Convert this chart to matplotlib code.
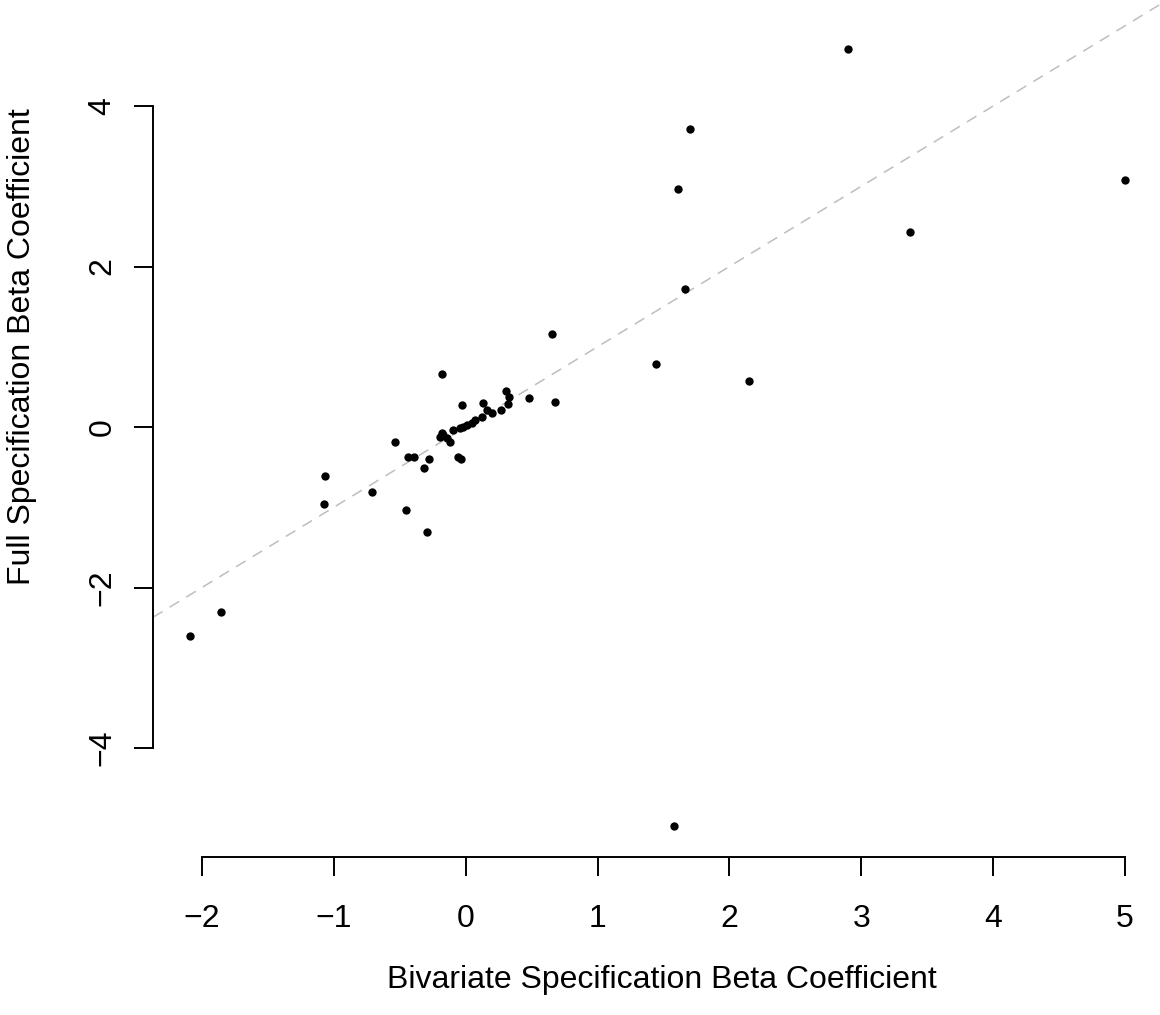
import matplotlib
matplotlib.use("Agg")
import matplotlib.pyplot as plt

plt.rcParams['font.family'] = ['Liberation Sans', 'DejaVu Sans']
plt.rcParams['lines.scale_dashes'] = False

# Bivariate (x) vs full specification (y) beta coefficients
bivariate = [2.899, 1.701, 1.610, 5.000, 3.369, 1.663, 0.654, 1.443, 2.149,
             -0.180, 0.677, 0.480, 1.580, -2.091, -1.856, -1.067, -1.075,
             -0.711, -0.453, -0.293, -0.536, -0.438, -0.392, -0.278, -0.316,
             -0.028, -0.058, -0.036,
             -0.180, -0.172, -0.195, -0.142, -0.119, -0.096, -0.043, -0.020,
             0.010, 0.048, 0.071, 0.124, 0.131, 0.162, 0.199, 0.268, 0.306,
             0.328, 0.321]
full = [4.710, 3.713, 2.966, 3.078, 2.430, 1.720, 1.159, 0.785, 0.573,
        0.660, 0.312, 0.361, -4.972, -2.604, -2.305, -0.611, -0.960,
        -0.810, -1.034, -1.308, -0.187, -0.374, -0.374, -0.399, -0.511,
        0.274, -0.374, -0.399,
        -0.075, -0.100, -0.125, -0.137, -0.187, -0.037, -0.012, 0.000,
        0.025, 0.050, 0.087, 0.125, 0.299, 0.212, 0.174, 0.212, 0.449,
        0.374, 0.287]

x_ticks = [-2, -1, 0, 1, 2, 3, 4, 5]
y_ticks = [-4, -2, 0, 2, 4]
x_label = "Bivariate Specification Beta Coefficient"
y_label = "Full Specification Beta Coefficient"

W, H = 1160, 1015
fig = plt.figure(figsize=(W / 100, H / 100), dpi=100)
ax = fig.add_axes([153 / W, (H - 857) / H, 1 - 153 / W, 857 / H])
ax.set_xlim(-2.371, 5.265)
ax.set_ylim(-5.358, 5.321)

ax.axline((0, 0), (1, 1), color='#BEBEBE', lw=1.1, dashes=(8, 6), zorder=1)
ax.scatter(bivariate, full, s=36, color='black', linewidths=0, zorder=3)

for s in ['top', 'right']:
    ax.spines[s].set_visible(False)
ax.spines['left'].set_bounds(-4, 4)
ax.spines['bottom'].set_bounds(-2, 5)
for s in ['left', 'bottom']:
    ax.spines[s].set_linewidth(1.4)

ax.set_xticks(x_ticks)
ax.set_yticks(y_ticks)
ax.tick_params(direction='out', length=13.7, width=1.4, labelsize=23, color='black')
ax.tick_params(axis='x', pad=20)
ax.tick_params(axis='y', pad=12)
for lab in ax.get_yticklabels():
    lab.set_rotation(90)
    lab.set_va('center')

fig.text(662 / W, 1 - 980 / H, x_label, ha='center', va='center', fontsize=23)
fig.text(22 / W, 1 - 347 / H, y_label, ha='center', va='center', rotation=90, fontsize=23)

fig.savefig("out.png", dpi=100)
